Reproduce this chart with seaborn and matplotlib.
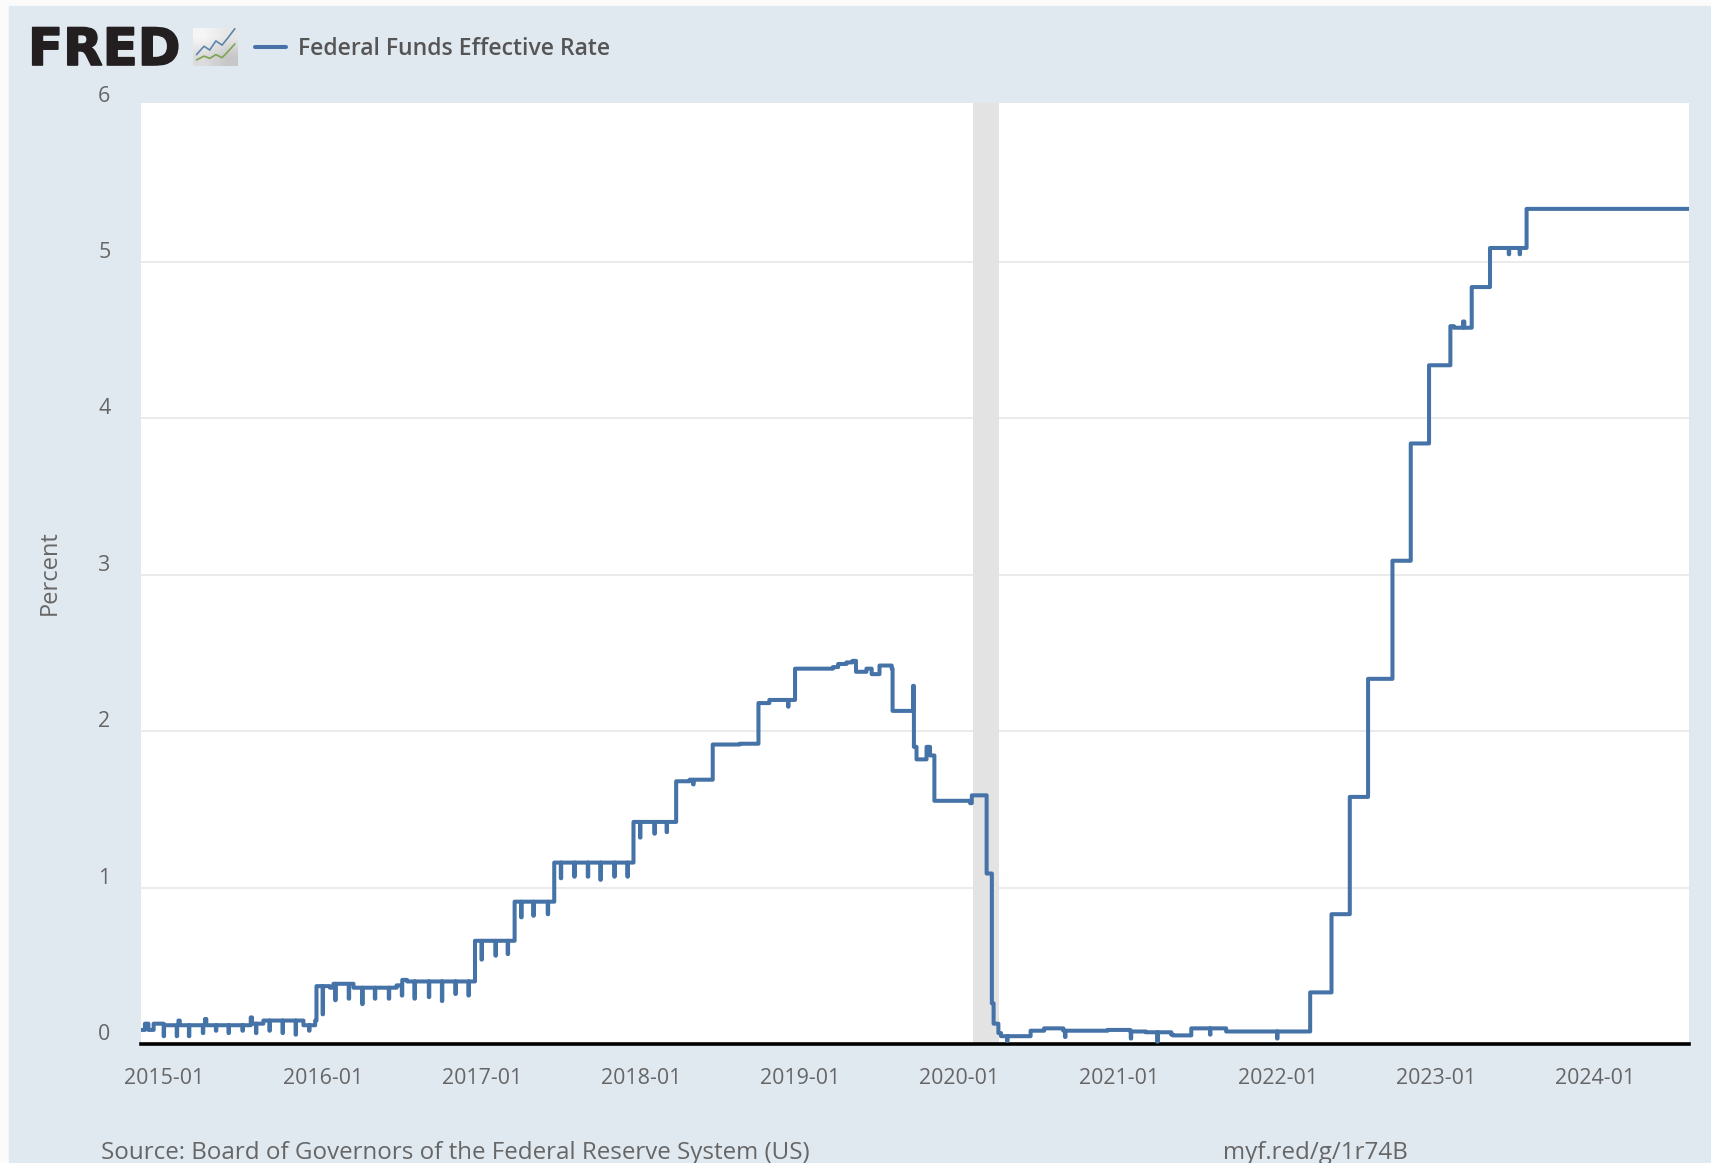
import matplotlib.dates as mdates
import matplotlib.patheffects as pe
import matplotlib.transforms as mtrans
import numpy as np
import pandas as pd
import seaborn as sns
from matplotlib import pyplot as plt
from matplotlib.patches import Rectangle

W, H = 1711, 1163
PANEL = "#e0e8f0"
LINE = "#4572a7"
TEXT = "#666666"

# level changes of the rate
step_dates = [
    "2014-11-08", "2014-11-18", "2014-11-26", "2014-12-08", "2015-01-01", "2015-02-03", "2015-02-06",
    "2015-04-05", "2015-04-08", "2015-07-19", "2015-07-22", "2015-08-17", "2015-11-17", "2015-12-14",
    "2015-12-17", "2016-01-17", "2016-01-25", "2016-03-11", "2016-06-18", "2016-07-01", "2016-07-12",
    "2016-10-08", "2016-12-15", "2017-03-16", "2017-06-15", "2017-12-14", "2018-03-22", "2018-04-22",
    "2018-06-14", "2018-08-15", "2018-09-27", "2018-10-22", "2018-12-20", "2019-03-17", "2019-03-29",
    "2019-04-17", "2019-05-01", "2019-05-09", "2019-06-02", "2019-06-14", "2019-07-02", "2019-07-30",
    "2019-08-01", "2019-09-16", "2019-09-17", "2019-09-19", "2019-09-25", "2019-10-18", "2019-10-26",
    "2019-11-05", "2020-01-26", "2020-01-30", "2020-03-04", "2020-03-16", "2020-03-20", "2020-03-31",
    "2020-04-06", "2020-06-06", "2020-06-13", "2020-07-14", "2020-08-27", "2020-12-07", "2021-01-28",
    "2021-03-05", "2021-05-02", "2021-05-06", "2021-06-17", "2021-08-25", "2021-09-05", "2022-03-17",
    "2022-05-05", "2022-06-16", "2022-07-28", "2022-09-22", "2022-11-03", "2022-12-15", "2023-02-02",
    "2023-02-10", "2023-03-03", "2023-03-06", "2023-03-23", "2023-05-04", "2023-07-27",
]
step_values = [
    0.09, 0.13, 0.09, 0.13, 0.12, 0.15, 0.12,
    0.16, 0.12, 0.17, 0.13, 0.15, 0.12, 0.15,
    0.37, 0.36, 0.385, 0.36, 0.375, 0.41, 0.40,
    0.40, 0.66, 0.91, 1.16, 1.42, 1.68, 1.69,
    1.915, 1.92, 2.18, 2.20, 2.40, 2.41, 2.43,
    2.44, 2.45, 2.38, 2.40, 2.365, 2.42, 2.40,
    2.13, 2.13, 2.29, 1.90, 1.82, 1.90, 1.845,
    1.555, 1.54, 1.59, 1.09, 0.26, 0.13, 0.07,
    0.05, 0.05, 0.085, 0.10, 0.085, 0.09, 0.08,
    0.075, 0.06, 0.055, 0.10, 0.10, 0.08, 0.33,
    0.83, 1.58, 2.335, 3.09, 3.84, 4.34, 4.59,
    4.58, 4.62, 4.58, 4.84, 5.09, 5.34,
]

# month end dips
dip_dates = [
    "2014-12-31", "2015-01-30", "2015-02-27", "2015-03-31", "2015-04-30", "2015-05-29", "2015-06-30",
    "2015-07-31", "2015-08-31", "2015-09-30", "2015-10-30", "2015-11-30", "2015-12-31", "2016-01-29",
    "2016-02-29", "2016-03-31", "2016-04-29", "2016-05-31", "2016-06-30", "2016-07-29", "2016-08-31",
    "2016-09-30", "2016-10-31", "2016-11-30", "2016-12-30", "2017-01-31", "2017-02-28", "2017-03-31",
    "2017-04-28", "2017-05-31", "2017-06-30", "2017-07-31", "2017-08-31", "2017-09-29", "2017-10-31",
    "2017-11-30", "2017-12-29", "2018-01-31", "2018-02-28", "2018-04-30", "2018-12-04", "2020-04-20",
    "2020-08-31", "2021-01-29", "2021-03-31", "2021-07-30", "2021-12-31", "2023-06-16", "2023-07-11",
]
dip_values = [
    0.05, 0.05, 0.05, 0.07, 0.085, 0.07, 0.085,
    0.07, 0.085, 0.07, 0.06, 0.085, 0.19, 0.28,
    0.29, 0.255, 0.29, 0.29, 0.31, 0.29, 0.30,
    0.275, 0.32, 0.31, 0.54, 0.565, 0.575, 0.81,
    0.82, 0.83, 1.06, 1.07, 1.07, 1.05, 1.07,
    1.07, 1.32, 1.345, 1.355, 1.66, 2.157, 0.02,
    0.045, 0.035, 0.015, 0.06, 0.035, 5.05, 5.05,
]
last_date = "2024-08-03"

recession_start = "2020-02-01"
recession_end = "2020-04-01"
y_ticks = [0, 1, 2, 3, 4, 5, 6]
tick_years = [2015, 2016, 2017, 2018, 2019, 2020, 2021, 2022, 2023, 2024]

# the little chart icon next to the logo
icon_x = [0.08, 0.25, 0.38, 0.52, 0.66, 0.78, 0.95]
icon_blue = [0.30, 0.52, 0.42, 0.66, 0.55, 0.72, 0.98]
icon_green = [0.16, 0.26, 0.20, 0.30, 0.22, 0.36, 0.58]

series = pd.Series(step_values, index=pd.to_datetime(step_dates))
days = pd.date_range(step_dates[0], last_date, freq="D")
series = series.reindex(days).ffill()
series.loc[pd.to_datetime(dip_dates)] = dip_values
df = pd.DataFrame({"date": series.index, "rate": series.values})

sns.set_style("white")
plt.rcParams["font.family"] = ["Open Sans", "DejaVu Sans"]

fig = plt.figure(figsize=(W / 100, H / 100), dpi=100, facecolor="#fbfbfb")
fig.patches.append(Rectangle((9 / W, 0), 1, 1 - 6 / H, transform=fig.transFigure, color=PANEL, zorder=-5))

ax = fig.add_axes([141 / W, 1 - 1044 / H, (1689 - 141) / W, (1044 - 103) / H], facecolor="white")
sns.lineplot(data=df, x="date", y="rate", drawstyle="steps-post", estimator=None, color=LINE,
             linewidth=2.9, ax=ax, label="Federal Funds Effective Rate", zorder=4, legend=False)
ax.axvspan(pd.Timestamp(recession_start), pd.Timestamp(recession_end), color="#e3e3e3", lw=0, zorder=2)

ax.set_xlim(pd.Timestamp("2014-11-09"), pd.Timestamp(last_date))
ax.set_ylim(0, 6.017)
ax.set_xlabel("")
ax.set_ylabel("")
ax.set_yticks(y_ticks)
ax.set_xticks([pd.Timestamp(f"{y}-01-01") for y in tick_years])
ax.xaxis.set_major_formatter(mdates.DateFormatter("%Y-%m"))
ax.grid(axis="y", color="#e6e6e6", linewidth=1.1, zorder=1)
ax.yaxis.get_gridlines()[-1].set_visible(False)
ax.set_axisbelow(True)
ax.tick_params(axis="x", length=14, width=1, color="#c8d4e6", pad=3, labelsize=15.4, labelcolor=TEXT)
ax.tick_params(axis="y", length=0, pad=22, labelsize=15.4, labelcolor=TEXT)
for lab in ax.get_yticklabels():
    lab.set_transform(lab.get_transform() + mtrans.ScaledTranslation(0, 12 / 100, fig.dpi_scale_trans))
for side in ("top", "right", "left"):
    ax.spines[side].set_visible(False)
ax.spines["bottom"].set_color("black")
ax.spines["bottom"].set_linewidth(2.6)

fig.text(50 / W, 1 - 573 / H, "Percent", rotation=90, ha="center", va="center", fontsize=17, color=TEXT)
fig.text(101 / W, 1 - 1153 / H, "Source: Board of Governors of the Federal Reserve System (US)",
         ha="left", va="center", fontsize=17.4, color=TEXT)
fig.text(1223 / W, 1 - 1153 / H, "myf.red/g/1r74B", ha="left", va="center", fontsize=17.4, color=TEXT)

logo = fig.text(28 / W, 1 - 65 / H, "FRED", ha="left", va="baseline", fontsize=37, fontweight="bold",
                family="DejaVu Sans", color="#231f20")
logo.set_path_effects([pe.withStroke(linewidth=1.2, foreground="#231f20")])

icon = fig.add_axes([193 / W, 1 - 66 / H, 44 / W, 38 / H])
icon.imshow(np.array([[0.96, 0.9], [0.86, 0.78]]), cmap="gray", vmin=0, vmax=1, interpolation="bilinear",
            extent=(0, 1, 0, 1), aspect="auto")
icon.plot(icon_x, icon_blue, color="#5b86ad", lw=1.2)
icon.plot(icon_x, icon_green, color="#7da453", lw=1.2)
icon.set_xlim(0, 1)
icon.set_ylim(0, 1)
icon.axis("off")

handles, labels = ax.get_lines()[:1], ["Federal Funds Effective Rate"]
fig.legend(handles, labels, loc="center left", bbox_to_anchor=(255 / W, 1 - 49 / H), frameon=False,
           handlelength=1.33, handletextpad=0.52, borderpad=0, borderaxespad=0,
           prop={"size": 16.6, "weight": "semibold"}, labelcolor="#555555")

plt.savefig("out.png", dpi=100, facecolor=fig.get_facecolor())
